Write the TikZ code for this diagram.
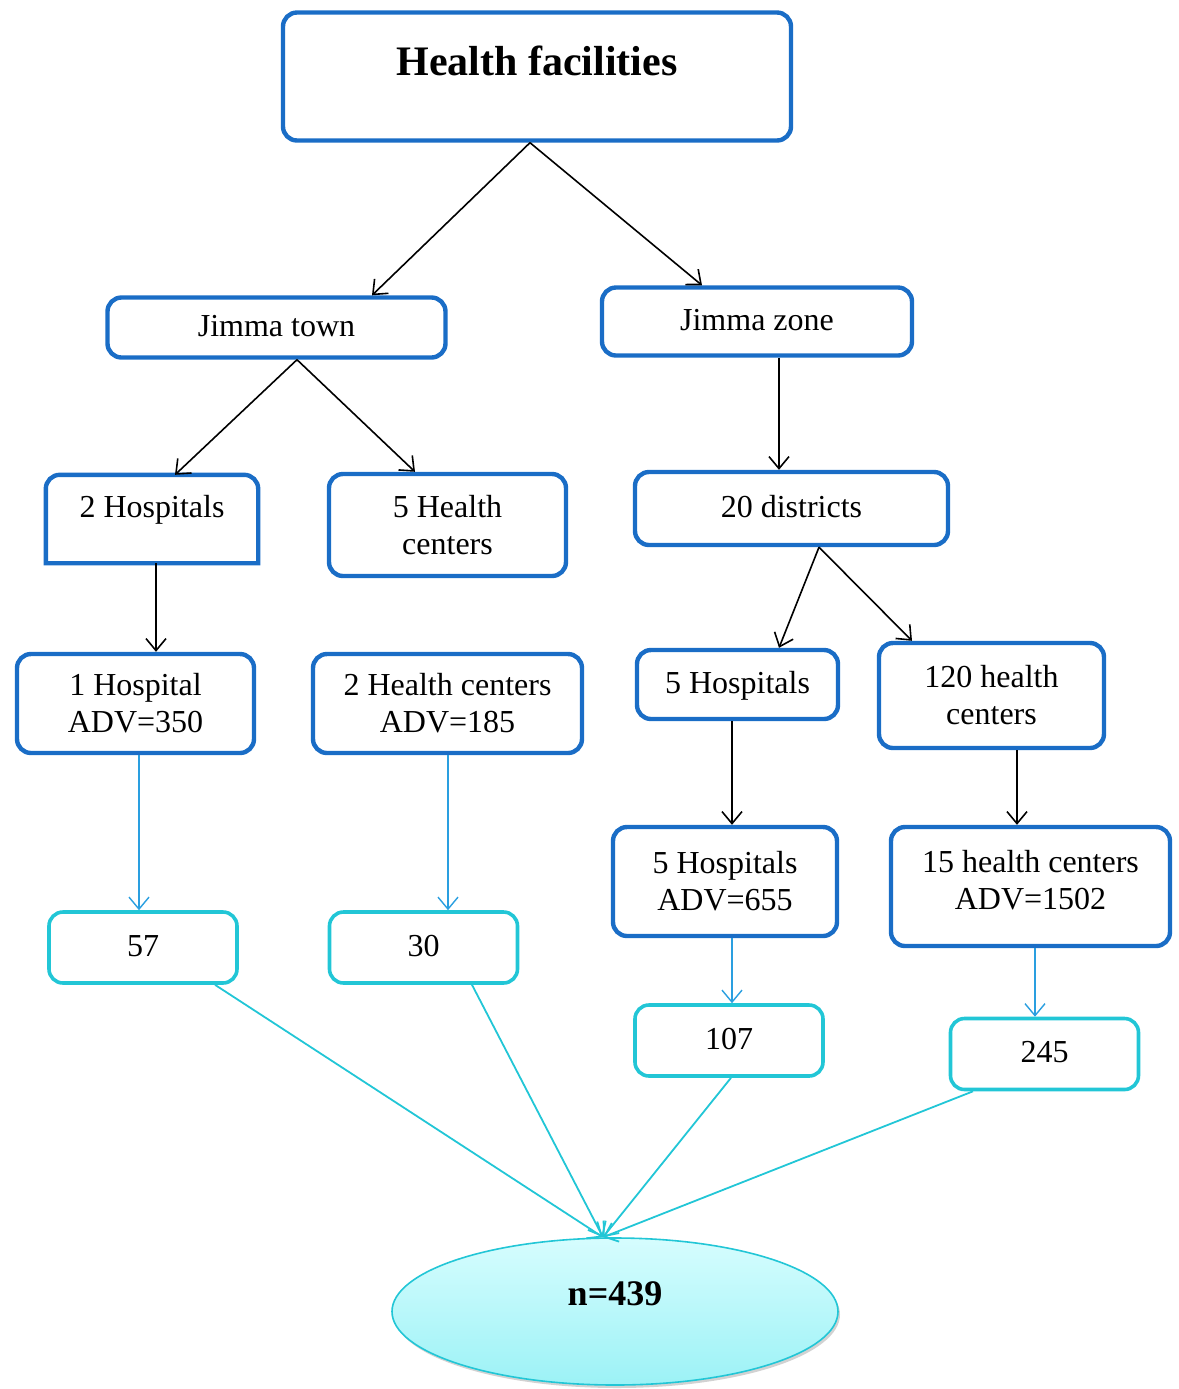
\documentclass[tikz,border=0pt]{standalone}
\usepackage{fontspec}
\setmainfont{Liberation Serif}
\usetikzlibrary{
  positioning, arrows.meta, shapes.geometric, shadows,
}
\definecolor{boxBlue}   {HTML}{1A6DC6}
\definecolor{countCyan} {HTML}{22C6D6}
\definecolor{flowBlue}  {HTML}{2A9FE0}
\definecolor{ovalTop}   {HTML}{D6FDFE}
\definecolor{ovalBottom}{HTML}{9CF2F6}

\tikzset{
  dims/.style 2 args={minimum width=#1pt, minimum height=#2pt},
  oneline/.style={text height=0.85em, text depth=#1},
  oneline/.default=0pt,
  unitbox/.style={draw=boxBlue, line width=2.2pt, rounded corners=7pt,
    align=center, inner sep=0pt, font=\fontsize{16}{18.5}\selectfont},
  countbox/.style={draw=countCyan, line width=1.8pt, rounded corners=7pt,
    inner sep=0pt, dims={94}{35.5}, oneline, font=\fontsize{16}{18.5}\selectfont},
  total/.style={ellipse, draw=countCyan, line width=0.8pt, inner sep=0pt,
    dims={223}{73.5}, top color=ovalTop, bottom color=ovalBottom,
    drop shadow={shadow xshift=1pt, shadow yshift=-1.5pt, fill=black!35},
    font=\bfseries\fontsize{18}{21}\selectfont},
  flow/.style={-{Straight Barb[length=6pt,width=10pt]}, line width=0.8pt},
  flowlight/.style={flow, draw=flowBlue, line width=0.7pt},
  merge/.style={flow, draw=countCyan, line width=0.9pt},
}

\begin{document}
\begin{tikzpicture}[x=0.5pt, y=-0.5pt]
  \useasboundingbox (0,0) rectangle (1179,1389);

  % facility tree
  \node[unitbox, dims={254}{64}, oneline=10pt,
        font=\bfseries\fontsize{21}{24}\selectfont] (facilities) at (537,76.5) {Health facilities};
  \node[unitbox, oneline, dims={169}{30}]    (jtown)  at (276.5,327.5) {Jimma town};
  \node[unitbox, oneline, dims={155}{34}]    (jzone)  at (757,321.5)   {Jimma zone};
  \node[unitbox, oneline=10.4pt, dims={104}{42}, draw=none] (hosp2) at (152,519) {2 Hospitals};
  \draw[draw=boxBlue, line width=2.2pt]
    (hosp2.south west) [rounded corners=7pt] -- (hosp2.north west) -- (hosp2.north east)
    [sharp corners] -- (hosp2.south east) -- cycle;
  \node[unitbox, dims={118.5}{51}]           (hc5)    at (447.5,525)   {5 Health\\centers};
  \node[unitbox, oneline, dims={156.5}{36.5}] (dist20) at (791.5,508.5) {20 districts};
  \node[unitbox, dims={118.5}{49.5}]         (hosp1)  at (135.5,703.5) {1 Hospital\\ADV=350};
  \node[unitbox, dims={134.5}{49.5}]         (hc2)    at (447.5,703.5) {2 Health centers\\ADV=185};
  \node[unitbox, oneline, dims={100.5}{34.5}] (hosp5) at (737.5,684.5) {5 Hospitals};
  \node[unitbox, dims={112.5}{52.5}]         (hc120)  at (991.5,695.5) {120 health\\centers};
  \node[unitbox, dims={112}{54.5}]           (hosp5adv) at (725,881.5) {5 Hospitals\\ADV=655};
  \node[unitbox, dims={139.5}{59.5}, text depth=6.5pt] (hc15) at (1030.5,886.5) {15 health centers\\ADV=1502};

  % sampled counts
  \node[countbox] (c57)  at (143,947.5)  {57};
  \node[countbox] (c30)  at (423.5,947.5) {30};
  \node[countbox] (c107) at (729,1040.5) {107};
  \node[countbox] (c245) at (1044.5,1054) {245};
  \node[total, oneline=14.7pt] (sum) at (615,1311.5) {n=439};

  \draw[flow] ([xshift=-3.5pt]facilities.south) -- ([xshift=47.75pt]jtown.north);
  \draw[flow] ([xshift=-3.5pt]facilities.south) -- ([xshift=-27.5pt]jzone.north);
  \draw[flow] ([xshift=10.25pt]jtown.south) -- ([xshift=11.5pt]hosp2.north);
  \draw[flow] ([xshift=10.25pt]jtown.south) -- ([xshift=-16.25pt]hc5.north);
  \draw[flow] ([xshift=11pt]jzone.south) -- ([xshift=-6.25pt]dist20.north);
  \draw[flow] ([xshift=2pt]hosp2.south) -- ([xshift=10.25pt]hosp1.north);
  \draw[flow] ([xshift=13.75pt]dist20.south) -- ([xshift=20.75pt]hosp5.north);
  \draw[flow] ([xshift=13.75pt]dist20.south) -- ([xshift=-39.75pt]hc120.north);
  \draw[flow] ([xshift=-2.75pt]hosp5.south) -- ([xshift=3.5pt]hosp5adv.north);
  \draw[flow] ([xshift=12.75pt]hc120.south) -- ([xshift=-6.75pt]hc15.north);

  \draw[flowlight] ([xshift=1.75pt]hosp1.south) -- ([xshift=-2pt]c57.north);
  \draw[flowlight] ([xshift=0.25pt]hc2.south) -- ([xshift=12.25pt]c30.north);
  \draw[flowlight] ([xshift=3.5pt]hosp5adv.south) -- ([xshift=1.5pt]c107.north);
  \draw[flowlight] ([xshift=2.25pt]hc15.south) -- ([xshift=-4.75pt]c245.north);

  \foreach \src/\dx in {c57/36, c30/24.25, c107/1, c245/-35.75}{
    \draw[merge] ([xshift=\dx pt]\src.south) -- ([xshift=-6pt]sum.north);
  }
\end{tikzpicture}
\end{document}
